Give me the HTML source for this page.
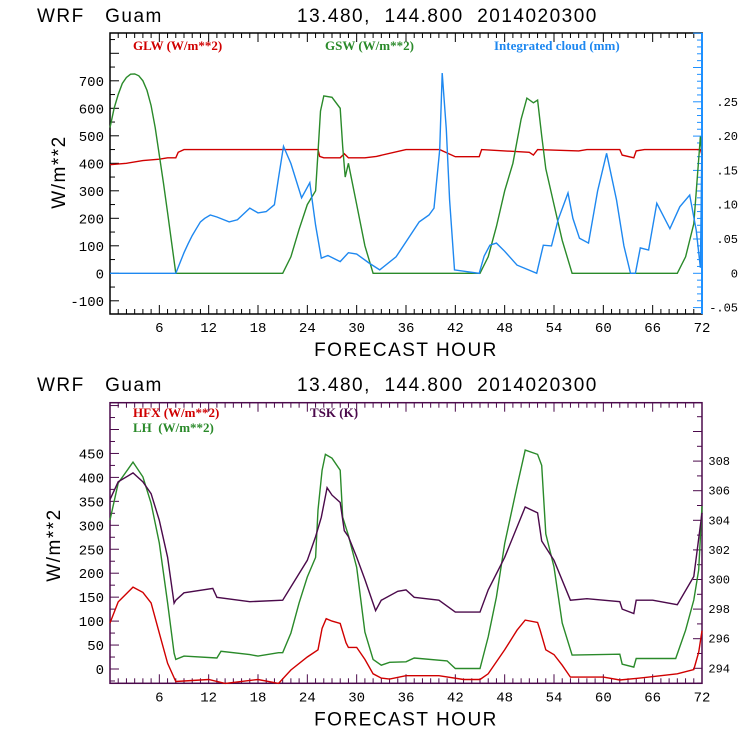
<!DOCTYPE html>
<html><head><meta charset="utf-8"><style>
html,body{margin:0;padding:0;background:#fff;}
svg{display:block;font-family:"Liberation Sans",sans-serif;}
text{white-space:pre}
.ttl{font-size:19px;fill:#000;letter-spacing:1.5px}
.tk{font-size:14px;fill:#000;font-family:"Liberation Mono",monospace}
.rt{font-size:12px;fill:#000;font-family:"Liberation Mono",monospace}
.lg{font-size:13px;font-family:"Liberation Serif",serif;font-weight:bold}
</style></head><body>
<svg id="c" width="740" height="740" viewBox="0 0 740 740"></svg>
<script>
// ---- Top panel data ----
const gswHours=[0,0.5,1,1.5,2,2.5,3,3.5,4,4.5,5,5.5,6,6.5,7,7.5,8,21,22,23,24,25,25.3,25.6,26,27,28,28.3,28.6,29,30,31,32,45,46,47,48,49,50,50.7,51.5,52,52.5,53,54,55,56.2,69,70,71,71.8,72];
const gswVals=[530,600,650,690,712,724,725,718,700,665,610,530,430,330,220,110,0,0,60,160,250,300,440,590,645,640,600,460,350,400,250,100,0,0,60,170,300,400,560,637,620,630,500,380,250,120,0,0,60,180,497,430];
const glwHours=[0,2,4,6,7,8,8.3,9,25.3,25.5,26,28,28.5,29,31,32.4,36,40.1,42,44.9,45.2,51,51.5,52,57,58,62,62.3,63.7,64,65,71.8,72];
const glwVals=[395,400,410,415,420,420,440,450,450,425,420,420,435,420,420,425,450,450,424,424,450,440,430,450,445,450,450,430,420,445,450,450,430];
const cldHours=[0,8,8.5,9,9.5,10,10.5,11,11.5,12.2,13,14.5,15.5,17,18,19,20,20.5,21.1,22,23.3,24.3,25,25.7,26.5,28,29,30,31.5,32.8,34.8,37.6,38.8,39.4,40.1,40.4,40.9,41.3,41.9,44.9,45.5,46.2,47,48,49.5,51.9,52.7,53.7,54.5,55.7,56.3,57.1,58.2,59.3,60.4,61.6,62.5,63.3,63.9,64.5,65.5,66.5,68.1,69.3,70.5,71.3,71.8,72];
const cldVals=[0,0,0.015,0.03,0.043,0.055,0.065,0.075,0.08,0.085,0.082,0.075,0.078,0.095,0.088,0.09,0.1,0.14,0.185,0.16,0.11,0.132,0.07,0.022,0.026,0.017,0.03,0.028,0.015,0.005,0.024,0.075,0.085,0.095,0.18,0.292,0.21,0.107,0.005,0,0.025,0.041,0.044,0.032,0.012,0,0.041,0.04,0.078,0.117,0.08,0.051,0.044,0.12,0.175,0.107,0.04,0,0,0.037,0.034,0.102,0.065,0.097,0.114,0.063,0.008,0.2];
// ---- Bottom panel data ----
const hfxHours=[0,1,2.8,4,5,6,7,8,12,14,18,20.5,22,24,25.3,25.8,26.3,27,28,28.7,29,30,31,32,33,34,36,40,43,45,46,48,49.5,50.5,52,52.3,53,54,55,56,60,62,65,69,71,71.6,72];
const hfxVals=[96,140,171,160,138,75,12,-26,-22,-30,-22,-30,-2,25,40,85,105,100,95,55,45,45,20,-10,-19,-21,-14,-14,-22,-22,-10,40,81,102,97,82,40,30,8,-17,-17,-23,-18,-10,-1,35,80];
const lhHours=[0,1,2.8,4,5,6,7,7.8,8,9,13,13.5,17,18,20.5,21,22,23,24,25,25.3,25.8,26.2,27,28,28.3,29,30,31,32,33,34,36,37,41,42,45,46,47,48,49.5,50.5,52,52.5,53,54,55,56.2,62,62.3,63.7,64,68.8,70,71,71.6,72];
const lhVals=[311,388,432,401,346,263,138,33,20,27,23,37,30,27,34,34,75,138,192,233,332,415,448,440,415,317,279,212,77,20,8,14,15,23,17,1,1,67,150,262,381,457,448,425,282,213,96,29,31,10,4,22,22,81,144,207,340];
const tskHours=[0,1,2.8,4,5,6,7,7.8,8,9,12.5,13,17,21,22,24,25,25.7,26.4,27,28,28.5,29,30,31,32.3,33,35,36,37,40,42,45,46,48,50.5,52,52.5,54,56,58,62,62.3,63.7,64,66,69,71,72];
const tskVals=[305.4,306.6,307.2,306.6,305.8,304,301.5,298.4,298.6,299.1,299.4,298.8,298.5,298.6,299.5,301.3,302.9,304.2,306.2,305.7,305.2,303.3,302.9,301.5,300,297.9,298.6,299.2,299.3,298.8,298.6,297.8,297.8,299.3,301.5,304.9,304.5,302.6,301.3,298.6,298.7,298.5,298,297.7,298.6,298.6,298.3,300.2,304.5];
const leftTicksTop=[-100,0,100,200,300,400,500,600,700];
const rightTicksTop=[-0.05,0,0.05,0.1,0.15,0.2,0.25];
const rightLabelsTop=['-.05','0','.05','.10','.15','.20','.25'];
const leftTicksBot=[0,50,100,150,200,250,300,350,400,450];
const rightTicksBot=[294,296,298,300,302,304,306,308];
const hourTicks=[6,12,18,24,30,36,42,48,54,60,66,72];

const NS='http://www.w3.org/2000/svg';
const svg=document.getElementById('c');
function mk(tag,attrs,parent){const e=document.createElementNS(NS,tag);for(const k in attrs)e.setAttribute(k,attrs[k]);(parent||svg).appendChild(e);return e;}
const X0=110,X1=702;
const xs=h=>X0+h*(X1-X0)/72;

function panel(o){
  const g=mk('g',{});
  
  
  const t1=mk('text',{x:37,y:o.titleY,class:'ttl'},g);t1.textContent='WRF   Guam';
  
  
  const t2=mk('text',{x:297,y:o.titleY,class:'ttl'},g);t2.textContent='13.480,  144.800  2014020300';
  
  
  const fr=mk('rect',{x:X0,y:o.top,width:X1-X0,height:o.bot-o.top,fill:'none',stroke:o.frame,'stroke-width':1.5},g);
  
  
  if(o.rightColor){const rl=mk('line',{x1:X1,y1:o.top,x2:X1,y2:o.bot,stroke:o.rightColor,'stroke-width':2},g);
    
    }
  for(let h=1;h<72;h++){const len=h%6==0?9:5;
    mk('line',{x1:xs(h),y1:o.bot,x2:xs(h),y2:o.bot-len,stroke:o.frame},g);
    mk('line',{x1:xs(h),y1:o.top,x2:xs(h),y2:o.top+len,stroke:o.frame},g);}
  hourTicks.forEach(h=>{const t=mk('text',{x:xs(h),y:o.bot+18,class:'tk','text-anchor':'middle'},g);t.textContent=h;
    
    });
  const xl=mk('text',{x:406,y:o.bot+42,class:'ttl','text-anchor':'middle','font-size':'17'},g);xl.textContent='FORECAST HOUR';
  
  
  for(let v=o.lmin;v<=o.lmax;v+=o.lminor){const y=o.ly(v);if(y<o.top||y>o.bot)continue;
    const major=Math.abs(v%o.lmajor)<1e-6;mk('line',{x1:X0,y1:y,x2:X0+(major?9:5),y2:y,stroke:o.frame},g);}
  o.lticks.forEach(v=>{const t=mk('text',{x:X0-6,y:o.ly(v)+5,class:'tk','text-anchor':'end'},g);t.textContent=v;
    
    });
  const yl=mk('text',{x:0,y:0,class:'ttl','text-anchor':'middle','font-size':'18',transform:`translate(${o.ylX},${o.ylY}) rotate(-90)`},g);yl.textContent='W/m**2';
  
  
  const rc=o.rightColor||o.frame;
  for(let v=o.rmin;v<=o.rmax+1e-9;v+=o.rminor){const y=o.ry(v);if(y<o.top||y>o.bot)continue;
    const major=Math.abs(v/o.rmajor-Math.round(v/o.rmajor))<1e-6;mk('line',{x1:X1,y1:y,x2:X1-(major?9:5),y2:y,stroke:rc},g);}
  o.rticks.forEach((v,i)=>{const t=mk('text',{x:o.rlx,y:o.ry(v)+4,class:'rt','text-anchor':'end'},g);t.textContent=o.rlabels?o.rlabels[i]:v;
    
    });
  return g;
}
function series(g,hours,vals,ys,color,name){
  const pts=hours.map((h,i)=>xs(h).toFixed(1)+','+ys(vals[i]).toFixed(1)).join(' ');
  const p=mk('polyline',{points:pts,fill:'none',stroke:color,'stroke-width':1.4},g);
  
  
}
function legend(g,x,y,txt,color,name){const t=mk('text',{x:x,y:y,class:'lg',fill:color},g);t.textContent=txt;
  
  }

const yTop=v=>273.3-v*0.275, rTop=v=>273.3-v*686;
const g1=panel({name:'top-panel',titleY:22,top:33,bot:314,frame:'#000',rightColor:'#1e90ff',
  ly:yTop,lmin:-150,lmax:850,lminor:50,lmajor:100,lticks:leftTicksTop,ylX:65,ylY:172,
  ry:rTop,rmin:-0.06,rmax:0.35,rminor:0.01,rmajor:0.05,rticks:rightTicksTop,rlabels:rightLabelsTop,rlx:738});
series(g1,glwHours,glwVals,yTop,'#d00000','glw-line');
series(g1,gswHours,gswVals,yTop,'#2a8a2a','gsw-line');
series(g1,cldHours,cldVals,rTop,'#1e88f0','cloud-line');
legend(g1,133,50,'GLW (W/m**2)','#d00000','legend-glw');
legend(g1,325,50,'GSW (W/m**2)','#2a8a2a','legend-gsw');
legend(g1,494,50,'Integrated cloud (mm)','#1e88f0','legend-cloud');

const yBot=v=>669-v*0.479, rBot=v=>668.3-(v-294)*14.8;
const g2=panel({name:'bottom-panel',titleY:391,top:402.7,bot:683.3,frame:'#4b0a4b',rightColor:null,
  ly:yBot,lmin:-25,lmax:575,lminor:25,lmajor:50,lticks:leftTicksBot,ylX:60,ylY:545,
  ry:rBot,rmin:293,rmax:312,rminor:1,rmajor:2,rticks:rightTicksBot,rlx:730});
series(g2,lhHours,lhVals,yBot,'#2a8a2a','lh-line');
series(g2,tskHours,tskVals,rBot,'#4b0a4b','tsk-line');
series(g2,hfxHours,hfxVals,yBot,'#d00000','hfx-line');
legend(g2,133,417,'HFX (W/m**2)','#d00000','legend-hfx');
legend(g2,133,432,'LH  (W/m**2)','#2a8a2a','legend-lh');
legend(g2,310,417,'TSK (K)','#4b0a4b','legend-tsk');
</script>
</body></html>
